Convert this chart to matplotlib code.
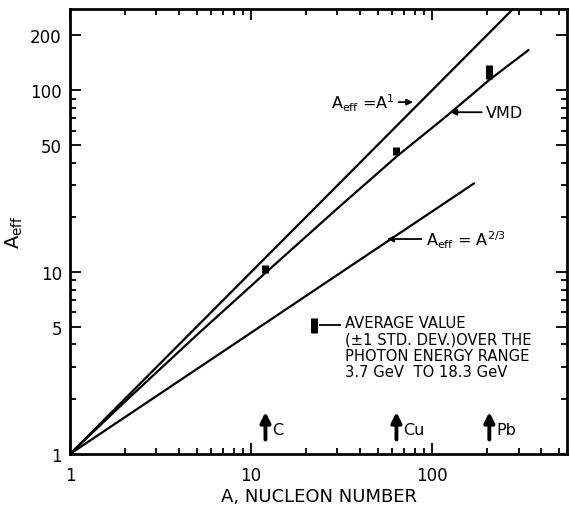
import matplotlib
matplotlib.use('Agg')
import matplotlib.pyplot as plt
from matplotlib.ticker import FixedLocator, NullFormatter

plt.rcParams['font.family'] = ['DejaVu Sans']
plt.rcParams['mathtext.default'] = 'regular'

# curves
A_unity = [1, 300]
Aeff_unity = [1, 300]
A_vmd = [1, 2, 5, 12, 30, 64, 120, 207, 340]
Aeff_vmd = [1, 1.93, 4.5, 9.9, 22.4, 43.4, 72, 114, 166]
A_twothirds = [1, 170]
Aeff_twothirds = [1, 30.7]

# measured points (+-1 std. dev.)
nuclei = ['C', 'Cu', 'Pb']
A_nuc = [12, 63.5, 207]
Aeff_lo = [9.9, 44, 116]
Aeff_hi = [10.9, 49, 137]

x_ticks = [1, 10, 100]
y_ticks = [1, 5, 10, 50, 100, 200]

fig = plt.figure(figsize=(5.7, 5.1), dpi=100)
ax = fig.add_axes([0.123, 0.108, 0.872, 0.872])

ax.plot(A_unity, Aeff_unity, color='k', lw=1.6)
ax.plot(A_vmd, Aeff_vmd, color='k', lw=1.6)
ax.plot(A_twothirds, Aeff_twothirds, color='k', lw=1.6)
ax.vlines(A_nuc, Aeff_lo, Aeff_hi, color='k', lw=5)

ax.set_xscale('log')
ax.set_yscale('log')
ax.set_xlim(1, 557)
ax.set_ylim(1, 279)

# nucleus markers along the bottom
for name, a in zip(nuclei, A_nuc):
    ax.annotate('', xy=(a, 1.7), xytext=(a, 1.2),
                arrowprops=dict(arrowstyle='-|>', lw=2.8, color='k',
                                mutation_scale=15, shrinkA=0, shrinkB=0))
    ax.annotate(name, xy=(a, 1.36), xytext=(5, 0), textcoords='offset points',
                ha='left', va='center', fontsize=11.5)

# curve labels
arr = dict(arrowstyle='-|>', lw=1.3, color='k', mutation_scale=9, shrinkA=1, shrinkB=0)
ax.annotate(r'$A_{eff}$ =A$^1$', xy=(78.5, 86), xytext=(62, 86), ha='right', va='center',
            fontsize=11.5, arrowprops=arr)
ax.annotate('VMD', xy=(126, 75.7), xytext=(198, 75.7), ha='left', va='center',
            fontsize=11.5, arrowprops=arr)
ax.annotate(r'$A_{eff}$ = A$^{2/3}$', xy=(56.4, 15.2), xytext=(92, 15.2), ha='left',
            va='center', fontsize=11.5, arrowprops=arr)

# key for the data boxes
ax.plot([0.491, 0.491], [0.272, 0.306], color='k', lw=5, transform=ax.transAxes,
        solid_capstyle='butt')
ax.plot([0.503, 0.543], [0.29, 0.29], color='k', lw=1.3, transform=ax.transAxes)
ax.text(0.553, 0.312, 'AVERAGE VALUE\n(±1 STD. DEV.)OVER THE\nPHOTON ENERGY RANGE\n'
        '3.7 GeV  TO 18.3 GeV', transform=ax.transAxes, ha='left', va='top',
        fontsize=10.6, linespacing=1.1)

ax.xaxis.set_major_locator(FixedLocator(x_ticks))
ax.set_xticklabels([str(t) for t in x_ticks])
ax.xaxis.set_minor_formatter(NullFormatter())
ax.yaxis.set_major_locator(FixedLocator(y_ticks))
ax.set_yticklabels([str(t) for t in y_ticks])
ax.yaxis.set_minor_formatter(NullFormatter())

ax.tick_params(which='both', direction='in', top=True, right=True, width=1.3, labelsize=12)
ax.tick_params(which='major', length=8)
ax.tick_params(which='minor', length=4)
ax.tick_params(axis='x', pad=9)
ax.tick_params(axis='y', pad=6)
for s in ax.spines.values():
    s.set_linewidth(2)

ax.set_xlabel('A, NUCLEON NUMBER', fontsize=13, labelpad=2)
ax.set_ylabel(r'$A_{eff}$', fontsize=14, labelpad=4)

fig.savefig('out.png', dpi=100)
